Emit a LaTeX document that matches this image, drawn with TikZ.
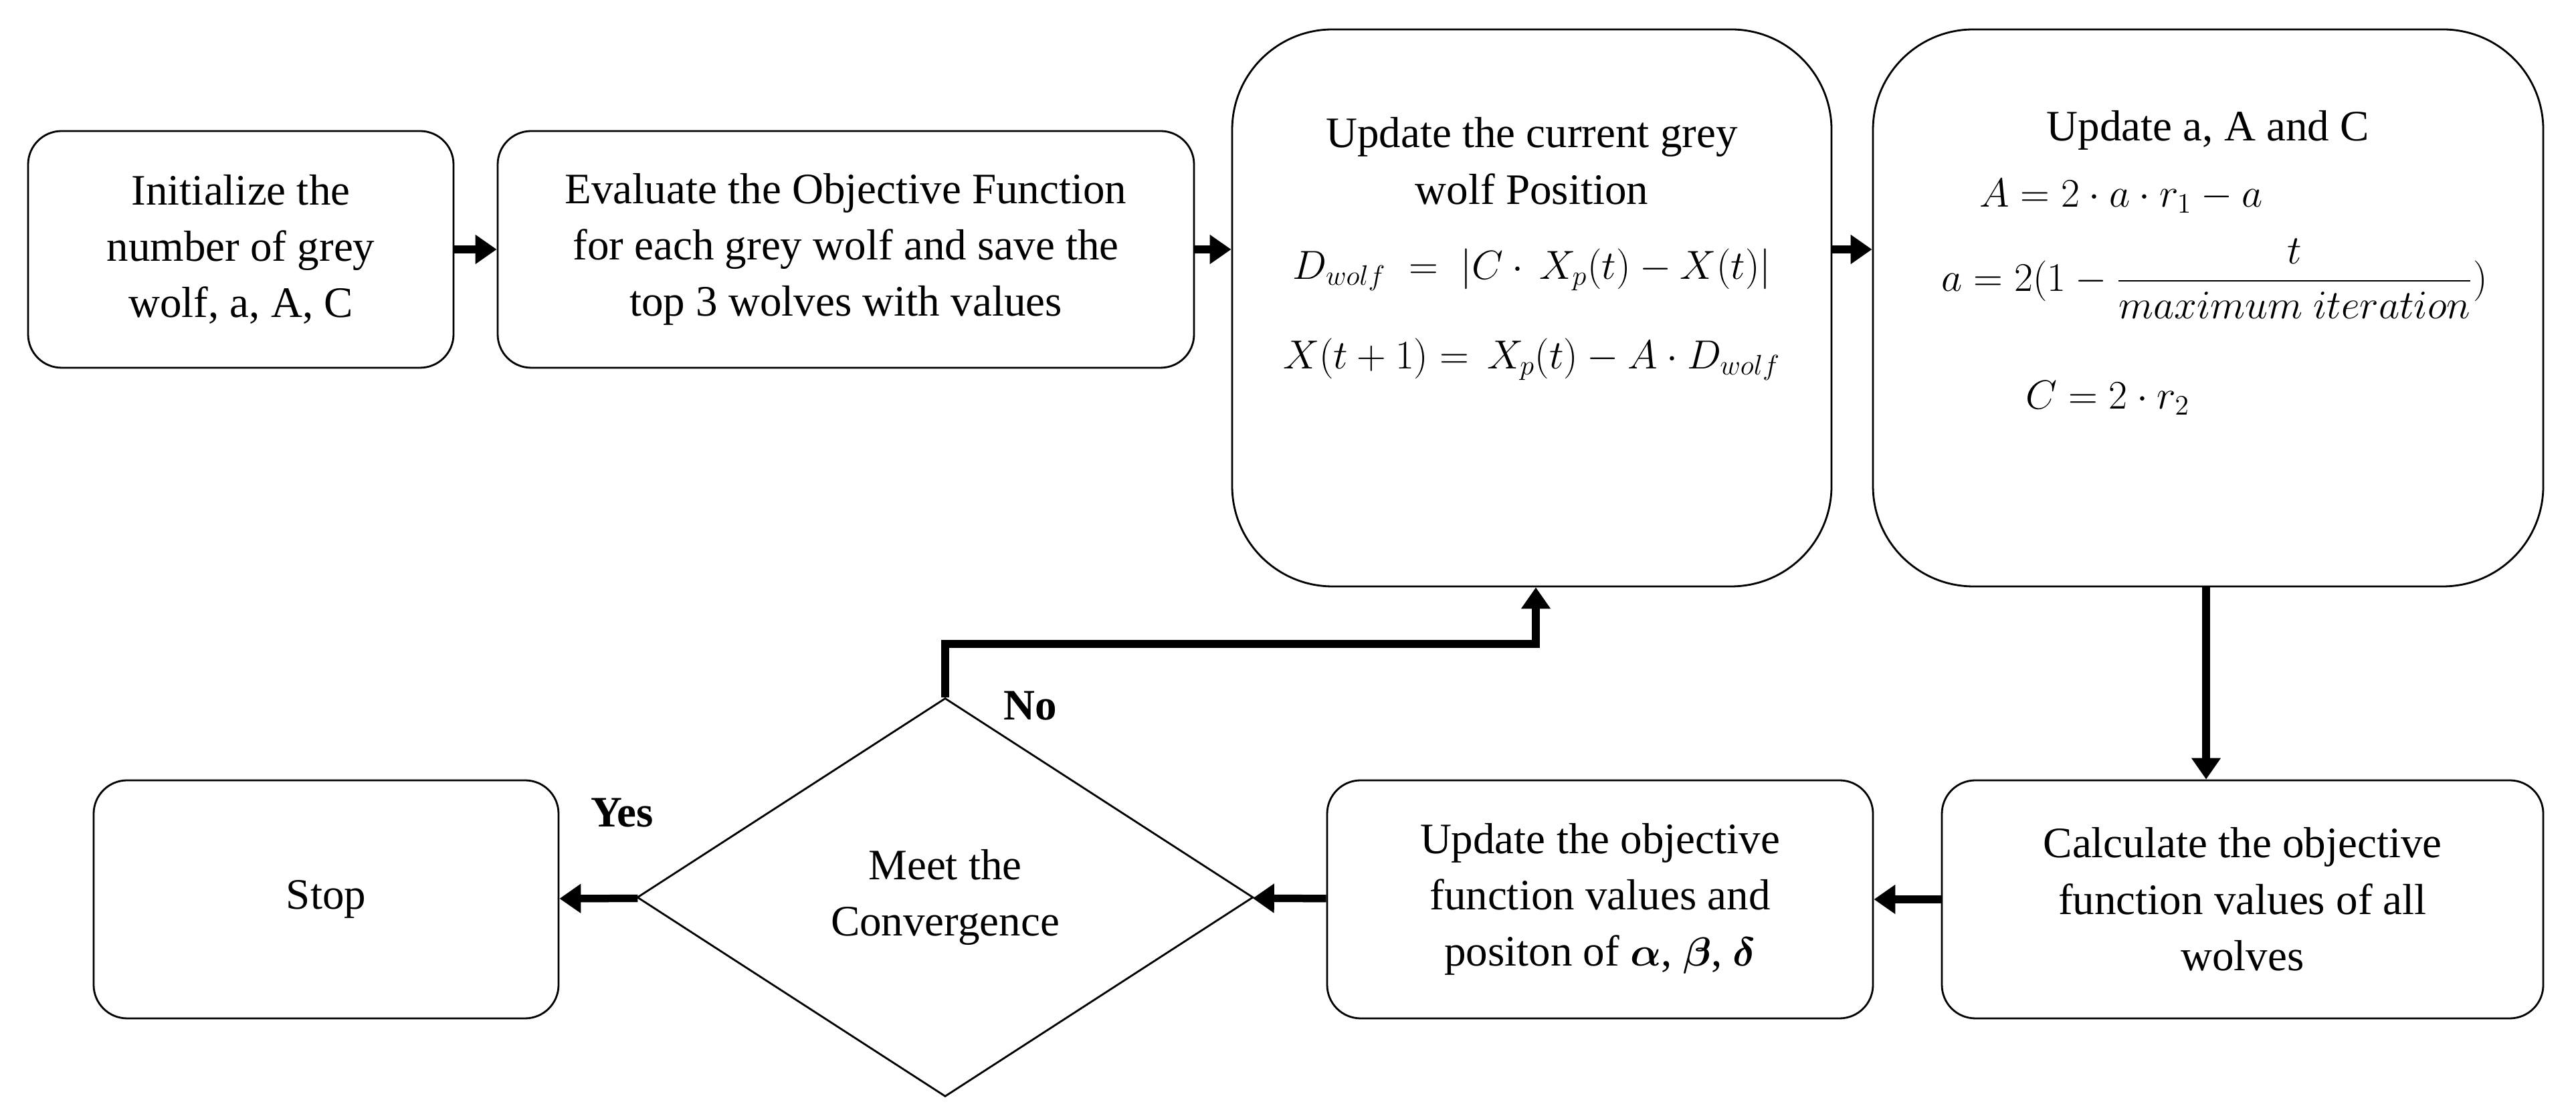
\documentclass[tikz,border=0pt]{standalone}
\usepackage{fontspec}
\setmainfont{Liberation Serif}
\usepackage{amsmath,bm}
\usetikzlibrary{shapes.geometric, arrows.meta}

\begin{document}
\begin{tikzpicture}[x=1cm,y=1cm, font=\fontsize{18.5}{24}\selectfont,
  box/.style={draw, thick, rounded corners=0.5cm, align=center},
  bigbox/.style={draw, thick, rounded corners=1.5cm, align=center},
  flow/.style={-{Triangle[length=0.32cm,width=0.42cm]}, line width=3.2pt}]
\useasboundingbox (0,0) rectangle (38.51,16.66);
\node[box, minimum width=6.36cm, minimum height=3.54cm] (init) at (3.60,12.93) {Initialize the\\number of grey\\wolf, a, A, C};
\node[box, minimum width=10.41cm, minimum height=3.54cm] (eval) at (12.645,12.93) {Evaluate the Objective Function\\for each grey wolf and save the\\top 3 wolves with values};
\node[bigbox, minimum width=8.96cm, minimum height=8.33cm] (pos) at (22.90,12.055) {Update the current grey\\wolf Position\\[8pt]
  $D_{wolf}\;=\;|C\cdot\,X_p(t)-X(t)|$\\[14pt]
  $X(t+1)=\,X_p(t)-A\cdot D_{wolf}$\\[1.1cm]\mbox{}};
\node[bigbox, minimum width=10.02cm, minimum height=8.33cm] (upd) at (33.01,12.055) {Update a, A and C\\[4pt]
  \hspace*{-2.6cm}$A=2\cdot a\cdot r_1-a$\\[10pt]
  \hspace*{0.2cm}$a=2(1-\dfrac{t}{maximum\ iteration})$\\[26pt]
  \hspace*{-3.0cm}{\LARGE $C=2\cdot r_2$}\\[0.6cm]\mbox{}};
\node[box, minimum width=8.99cm, minimum height=3.56cm] (calc) at (33.525,3.21) {Calculate the objective\\function values of all\\wolves};
\node[box, minimum width=8.16cm, minimum height=3.56cm] (obj) at (23.92,3.21) {Update the objective\\function values and\\positon of $\bm{\alpha}$, $\bm{\beta}$, $\bm{\delta}$};
\node[draw, thick, diamond, aspect=1.55, minimum width=9.21cm, minimum height=5.96cm, align=center, inner sep=0pt] (conv) at (14.13,3.24) {Meet the\\Convergence};
\node[box, minimum width=6.95cm, minimum height=3.56cm] (stop) at (4.875,3.21) {Stop};
\coordinate (turn) at (14.13,7.03);
% Arrows
\draw[flow] (init) -- (eval);
\draw[flow] (eval) -- (pos.west |- eval);
\draw[flow] (pos.east |- eval) -- (upd.west |- eval);
\draw[flow] (upd.south -| 32.98,0) -- (calc.north -| 32.98,0);
\draw[flow] (calc) -- (obj);
\draw[flow] (obj) -- (conv);
\draw[flow] (conv) -- (stop);
\draw[flow] (conv.north) -- (turn) -| (pos.south -| 22.96,0);
% Labels
\node[font=\fontsize{18.5}{24}\selectfont\bfseries] (no) at (15.4,6.1) {No};
\node[font=\fontsize{18.5}{24}\selectfont\bfseries] (yes) at (9.3,4.5) {Yes};
\end{tikzpicture}
\end{document}
